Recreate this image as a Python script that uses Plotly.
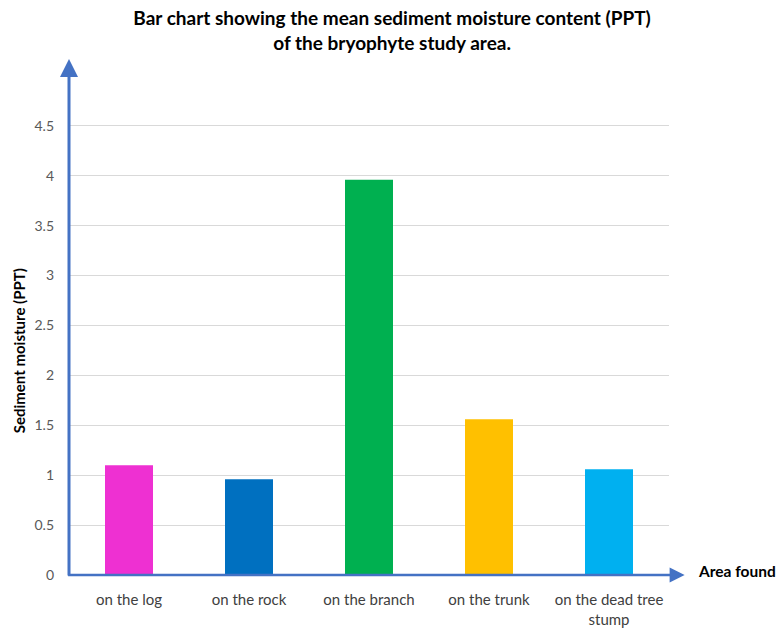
import plotly.graph_objects as go

categories = ["on the log", "on the rock", "on the branch", "on the trunk", "on the dead tree<br>stump"]
values = [1.10, 0.96, 3.96, 1.56, 1.06]
colors = ["#EE30D2", "#0070C0", "#00B050", "#FFC000", "#00B0F0"]
y_ticks = [0, 0.5, 1, 1.5, 2, 2.5, 3, 3.5, 4, 4.5]
y_tick_labels = ["0", "0.5", "1", "1.5", "2", "2.5", "3", "3.5", "4", "4.5"]

axis_blue = "#4472C4"
font_family = "Lato, 'Open Sans', sans-serif"

fig = go.Figure(go.Bar(
    x=list(range(len(categories))),
    y=values,
    marker=dict(color=colors, line=dict(width=0)),
    width=0.4,
    hoverinfo="skip",
))

fig.update_layout(
    width=778, height=632,
    margin=dict(l=69, r=109, t=59, b=57),
    paper_bgcolor="white", plot_bgcolor="white",
    showlegend=False,
    font=dict(family=font_family, size=13, color="#404040"),
    title=dict(
        text="<b>Bar chart showing the mean sediment moisture content (PPT)<br>of the bryophyte study area.</b>",
        x=0.504, xanchor="center", y=0.96, yanchor="top",
        font=dict(family=font_family, size=19, color="black"),
    ),
    xaxis=dict(
        range=[-0.5, len(categories) - 0.5],
        tickmode="array",
        tickvals=list(range(len(categories))),
        ticktext=categories,
        showgrid=False, zeroline=False, showline=False,
        ticks="", ticklabelstandoff=14,
        tickfont=dict(size=15, color="#404040"),
        automargin=False,
        fixedrange=True,
    ),
    yaxis=dict(
        range=[0, 5.17],
        tickmode="array",
        tickvals=y_ticks,
        ticktext=y_tick_labels,
        showgrid=True, gridcolor="#D9D9D9", gridwidth=1,
        zeroline=False, showline=False,
        ticks="", ticklabelstandoff=14,
        tickfont=dict(size=14, color="#595959"),
        automargin=False,
        fixedrange=True,
    ),
    annotations=[
        # y axis arrow
        dict(x=0, y=1, xref="paper", yref="paper", ax=0, ay=518,
             axref="pixel", ayref="pixel", text="", showarrow=True,
             arrowhead=2, arrowsize=1.2, arrowwidth=3, arrowcolor=axis_blue, standoff=0, startstandoff=0),
        # x axis arrow
        dict(x=1.026, y=0, xref="paper", yref="paper", ax=-618, ay=0,
             axref="pixel", ayref="pixel", text="", showarrow=True,
             arrowhead=2, arrowsize=1.2, arrowwidth=2.5, arrowcolor=axis_blue, standoff=0, startstandoff=0),
        # y title
        dict(x=-0.083, y=0.434, xref="paper", yref="paper", text="<b>Sediment moisture (PPT)</b>",
             textangle=-90, showarrow=False, font=dict(size=15, color="black"),
             xanchor="center", yanchor="middle"),
        # x title
        dict(x=1.045, y=0.007, xref="paper", yref="paper", text="<b>Area found</b>",
             showarrow=False, font=dict(size=15.5, color="black"), xanchor="left", yanchor="middle"),
    ],
)

fig.write_html("out.html")
